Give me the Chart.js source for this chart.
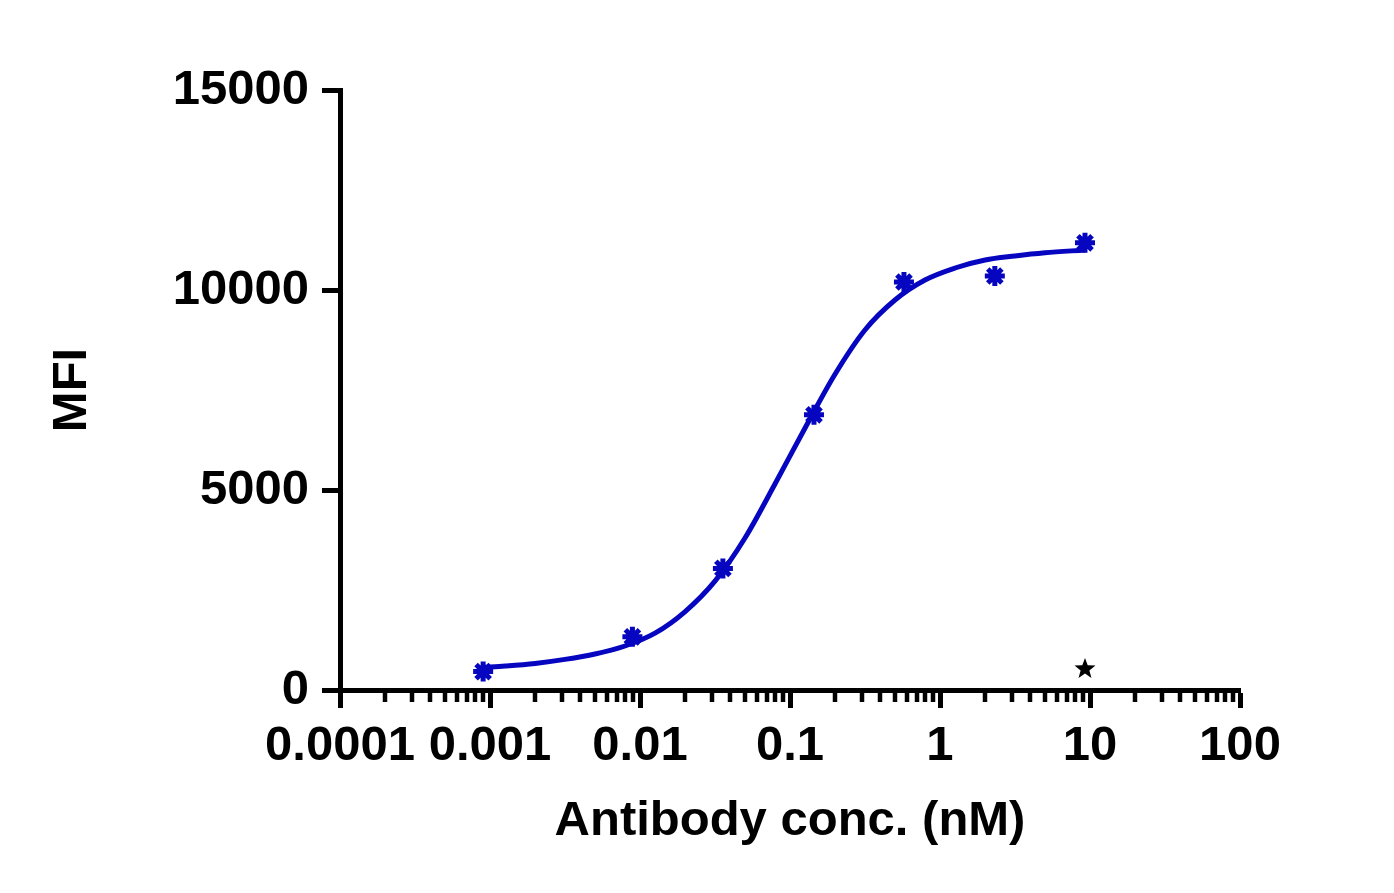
<!DOCTYPE html>
<html lang="en">
<head>
  <meta charset="UTF-8">
  <title>MFI - antibody binding</title>
  <script src="https://cdn.jsdelivr.net/npm/chart.js@4.4.1/dist/chart.umd.min.js"></script>
  <style>
    html, body { margin: 0; padding: 0; background: #fff; }
    #wrap { width: 1394px; height: 893px; }
  </style>
</head>
<body>
  <div id="wrap"><canvas id="mfiChart" width="1394" height="893"></canvas></div>

  <script>
    // measured points
    const concValues = [0.0009, 0.0089, 0.0357, 0.1445, 0.575, 2.32, 9.26];
    const mfiValues = [460, 1330, 3040, 6880, 10200, 10350, 11180];

    // fitted curve
    const fitConc = [0.0009, 0.00126, 0.002, 0.00316, 0.00501, 0.00794, 0.0126, 0.02, 0.0316, 0.0501,
      0.0794, 0.126, 0.2, 0.316, 0.501, 0.794, 1.26, 2.0, 3.16, 5.01, 9.26];
    const fitMfi = [565, 600, 665, 765, 900, 1100, 1420, 1960, 2720, 3800,
      5150, 6550, 7900, 9000, 9750, 10250, 10550, 10750, 10850, 10930, 11000];

    // the black star near the x axis
    const starConc = [9.26];
    const starMfi = [550];

    const xTickValues = [0.0001, 0.001, 0.01, 0.1, 1, 10, 100];
    const xTickLabels = ['0.0001', '0.001', '0.01', '0.1', '1', '10', '100'];
    const yTickValues = [0, 5000, 10000, 15000];
    const yTickLabels = ['0', '5000', '10000', '15000'];

    const blue = '#0606c0';
    const fontFamily = "'Liberation Sans', Arial, sans-serif";

    // filled five point star used as a point style
    function makeStar(size) {
      const c = document.createElement('canvas');
      c.width = size;
      c.height = size;
      const g = c.getContext('2d');
      const cx = size / 2, cy = size / 2 + 1;
      const outer = size / 2, inner = outer * 0.42;
      g.beginPath();
      for (let i = 0; i < 10; i++) {
        const r = i % 2 === 0 ? outer : inner;
        const a = -Math.PI / 2 + i * Math.PI / 5;
        g.lineTo(cx + r * Math.cos(a), cy + r * Math.sin(a));
      }
      g.closePath();
      g.fillStyle = '#000';
      g.fill();
      return c;
    }

    // short minor ticks on the log axis
    const minorTicks = {
      id: 'minorTicks',
      afterDraw(chart) {
        const xs = chart.scales.x;
        const bottom = chart.chartArea.bottom;
        const g = chart.ctx;
        g.save();
        g.strokeStyle = '#000';
        g.lineWidth = 4.5;
        for (let k = -4; k < 2; k++) {
          for (let m = 2; m < 10; m++) {
            const px = Math.round(xs.getPixelForValue(m * Math.pow(10, k)));
            g.beginPath();
            g.moveTo(px, bottom);
            g.lineTo(px, bottom + 12);
            g.stroke();
          }
        }
        g.restore();
      }
    };

    const ctx = document.getElementById('mfiChart').getContext('2d');

    const chart = new Chart(ctx, {
      type: 'scatter',
      data: {
        datasets: [
          {
            label: 'star',
            data: starConc.map((x, i) => ({ x: x, y: starMfi[i] })),
            pointStyle: makeStar(22),
            pointRadius: 11,
            order: 0
          },
          {
            label: 'MFI',
            data: concValues.map((x, i) => ({ x: x, y: mfiValues[i] })),
            pointStyle: 'star',
            pointRadius: 10,
            pointBorderWidth: 5,
            pointBorderColor: blue,
            pointBackgroundColor: blue,
            order: 1
          },
          {
            label: 'fit',
            data: fitConc.map((x, i) => ({ x: x, y: fitMfi[i] })),
            showLine: true,
            borderColor: blue,
            borderWidth: 5,
            pointRadius: 0,
            cubicInterpolationMode: 'monotone',
            order: 2
          }
        ]
      },
      options: {
        responsive: false,
        animation: false,
        layout: { padding: { left: 0, top: 90, right: 154, bottom: 0 } },
        plugins: {
          legend: { display: false },
          tooltip: { enabled: false }
        },
        scales: {
          x: {
            type: 'logarithmic',
            min: 0.0001,
            max: 100,
            afterBuildTicks: (scale) => { scale.ticks = xTickValues.map(v => ({ value: v })); },
            afterFit: (scale) => { scale.height = 203; },
            border: { display: true, color: '#000', width: 5 },
            grid: { drawOnChartArea: false, drawTicks: true, tickLength: 18, tickWidth: 5, tickColor: '#000' },
            ticks: {
              color: '#000',
              padding: 9,
              maxRotation: 0,
              autoSkip: false,
              font: { family: fontFamily, size: 49, weight: 'bold' },
              callback: (value, index) => xTickLabels[index]
            },
            title: {
              display: true,
              text: 'Antibody conc. (nM)',
              color: '#000',
              padding: { top: 0, bottom: 42 },
              font: { family: fontFamily, size: 49, weight: 'bold' }
            }
          },
          y: {
            min: 0,
            max: 15000,
            afterBuildTicks: (scale) => { scale.ticks = yTickValues.map(v => ({ value: v })); },
            afterFit: (scale) => { scale.width = 340; },
            border: { display: true, color: '#000', width: 5 },
            grid: { drawOnChartArea: false, drawTicks: true, tickLength: 18, tickWidth: 5, tickColor: '#000' },
            ticks: {
              color: '#000',
              padding: 13,
              font: { family: fontFamily, size: 49, weight: 'bold' },
              callback: (value, index) => yTickLabels[index]
            },
            title: {
              display: true,
              text: 'MFI',
              color: '#000',
              padding: { top: 43, bottom: 0 },
              font: { family: fontFamily, size: 49, weight: 'bold' }
            }
          }
        }
      },
      plugins: [minorTicks]
    });
  </script>
</body>
</html>
